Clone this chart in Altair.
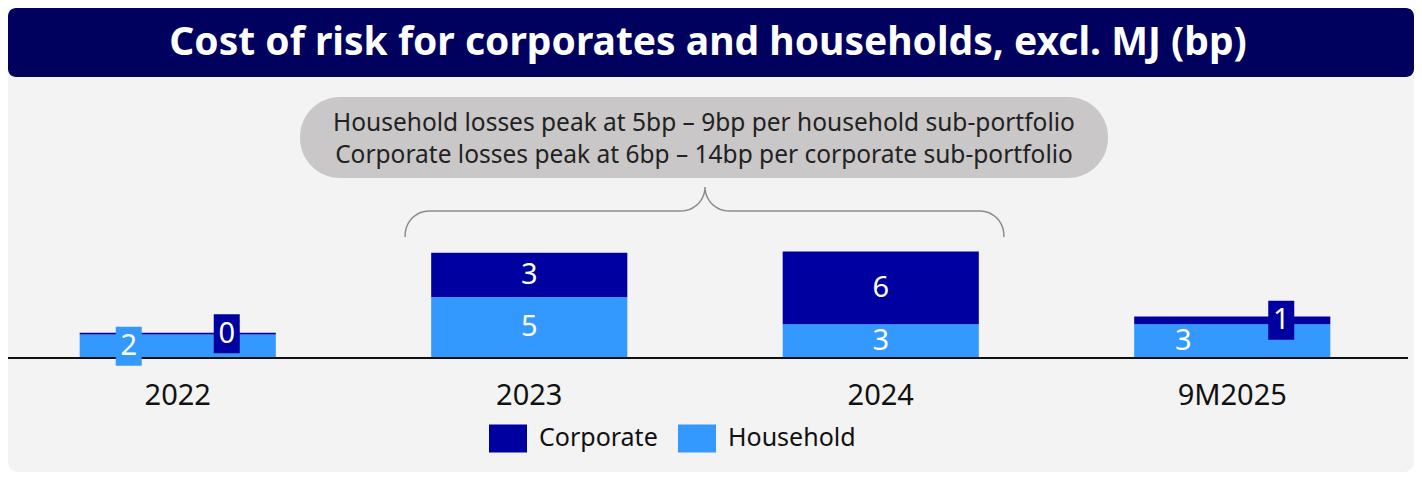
import altair as alt
import pandas as pd
import numpy as np

# ---------------- data ----------------
years = ["2022", "2023", "2024", "9M2025"]
household = [1.8, 4.7, 2.6, 2.6]
corporate = [0.15, 3.4, 5.6, 0.6]
series_names = ["Corporate", "Household"]
series_colors = ["#0000a0", "#3399ff"]
title_text = "Cost of risk for corporates and households, excl. MJ (bp)"
bubble_lines = [
    "Household losses peak at 5bp \u2013 9bp per household sub-portfolio",
    "Corporate losses peak at 6bp \u2013 14bp per corporate sub-portfolio",
]

# ---------------- layout ----------------
W, H = 1406, 464
FONT = "Noto Sans"
STEP_START, STEP_END = -6, 1400
P_INNER, P_OUTER = 0.442, 0.221

rows = []
for i, yr in enumerate(years):
    rows.append({"year": yr, "series": "Household", "value": household[i], "ord": 0})
    rows.append({"year": yr, "series": "Corporate", "value": corporate[i], "ord": 1})
df = pd.DataFrame(rows)

one = alt.Data(values=[{"k": 1}])

xs = alt.Scale(domain=years, range=[STEP_START, STEP_END], paddingInner=P_INNER, paddingOuter=P_OUTER)
ys = alt.Scale(domain=[0, 20], range=[350, 90])
cs = alt.Scale(domain=series_names, range=series_colors)
leg = alt.Legend(
    orient="none", legendX=481, legendY=411, direction="horizontal", title=None,
    symbolType="M-1,-0.737L1,-0.737L1,0.737L-1,0.737Z", symbolSize=1444,
    symbolStrokeWidth=0, symbolOpacity=1, labelFont=FONT, labelFontSize=25,
    labelColor="#111111", labelOffset=12, columnPadding=20, padding=0,
)

X = alt.X("year:N", scale=xs, axis=None, sort=years)
BOX = "M-0.667,-1L0.667,-1L0.667,1L-0.667,1Z"

base = (
    alt.Chart(df)
    .transform_joinaggregate(total="sum(value)", groupby=["year"])
    .transform_stack(stack="value", groupby=["year"], as_=["v0", "v1"],
                     sort=[alt.SortField(field="ord", order="ascending")])
    .transform_calculate(mid="(datum.v0 + datum.v1) / 2")
)

bars = base.mark_bar().encode(
    x=X,
    y=alt.Y("v0:Q", scale=ys, axis=None),
    y2="v1:Q",
    color=alt.Color("series:N", scale=cs, legend=leg),
)

def label_layer(flt, dx):
    return base.transform_filter(flt).mark_text(
        font=FONT, fontSize=29, color="white", align="center", baseline="middle", dx=dx
    ).encode(
        x=X,
        y=alt.Y("mid:Q", scale=ys, axis=None),
        text=alt.Text("value:Q", format=".0f"),
    )

lab_c = label_layer("datum.total >= 4", 0)
lab_l = label_layer("datum.total < 4 && datum.series == 'Household'", -49)
lab_r = label_layer("datum.total < 4 && datum.series == 'Corporate'", 49)

def box_layer(series, off):
    return base.transform_filter(
        f"datum.total < 4 && datum.value < 2 && datum.series == '{series}'"
    ).mark_point(
        shape=BOX, size=1521, filled=True, opacity=1, strokeWidth=0, xOffset=off,
    ).encode(x=X, y=alt.Y("mid:Q", scale=ys, axis=None),
             color=alt.Color("series:N", scale=cs, legend=leg))

boxes_l = box_layer("Household", -49)
boxes_r = box_layer("Corporate", 49)

xlabels = base.transform_filter("datum.series == 'Household'").mark_text(
    font=FONT, fontSize=29, color="#111111", align="center", baseline="middle"
).encode(x=X, y=alt.value(388), text="year:N")

baseline = alt.Chart(one).mark_rule(color="#111111", strokeWidth=2).encode(
    x=alt.value(0), x2=alt.value(1400), y=alt.value(350)
)

data_layer = alt.layer(bars, baseline, boxes_l, boxes_r, lab_c, lab_l, lab_r, xlabels)

# ---------------- decorations ----------------
panel = alt.Chart(one).mark_rect(color="#f3f3f3", cornerRadius=10).encode(
    x=alt.value(0), x2=alt.value(W), y=alt.value(40), y2=alt.value(H)
)
title_bar = alt.Chart(one).mark_rect(color="#00005f", cornerRadius=8).encode(
    x=alt.value(0), x2=alt.value(W), y=alt.value(0), y2=alt.value(69)
)
title = alt.Chart(one).mark_text(
    font=FONT, fontSize=39, fontWeight="bold", color="white", align="center", baseline="middle"
).encode(x=alt.value(700), y=alt.value(35), text=alt.value(title_text))

bubble = alt.Chart(one).mark_rect(color="#c9c7c7", cornerRadius=40).encode(
    x=alt.value(292), x2=alt.value(1100), y=alt.value(89), y2=alt.value(170)
)
bub_t1 = alt.Chart(one).mark_text(
    font=FONT, fontSize=24.5, color="#222222", align="center", baseline="middle"
).encode(x=alt.value(696), y=alt.value(116), text=alt.value(bubble_lines[0]))
bub_t2 = alt.Chart(one).mark_text(
    font=FONT, fontSize=24.5, color="#222222", align="center", baseline="middle"
).encode(x=alt.value(696), y=alt.value(148), text=alt.value(bubble_lines[1]))

# brace spanning 2023..2024 (geometry derived from band layout)
step = (STEP_END - STEP_START) / len(years)
hb = step * (1 - P_INNER) / 2
c1 = STEP_START + step * 1.5
c2 = STEP_START + step * 2.5
Lx, Rx, Px = c1 - hb - 26, c2 + hb + 25, (c1 + c2) / 2
yh, yp, r = 203, 179, 24
pts = [(Lx, 229)]
def arc(cx, cy, a0, a1, n=14):
    return [(cx + r * np.cos(t), cy + r * np.sin(t)) for t in np.linspace(a0, a1, n)]
pts += arc(Lx + r, yh + r, np.pi, 1.5 * np.pi)
pts += arc(Px - r, yp, 0.5 * np.pi, 0)
pts += arc(Px + r, yp, np.pi, 0.5 * np.pi)
pts += arc(Rx - r, yh + r, 1.5 * np.pi, 2 * np.pi)
pts += [(Rx, 229)]
brace_df = pd.DataFrame({"i": range(len(pts)), "bx": [p[0] for p in pts], "by": [p[1] for p in pts]})
brace = alt.Chart(brace_df).mark_line(color="#8c8c8c", strokeWidth=1.5).encode(
    x=alt.X("bx:Q", scale=alt.Scale(domain=[0, W], range=[0, W]), axis=None),
    y=alt.Y("by:Q", scale=alt.Scale(domain=[0, H], range=[0, H]), axis=None),
    order="i:Q",
)

chart = (
    alt.layer(panel, title_bar, title, bubble, bub_t1, bub_t2, brace, data_layer)
    .resolve_scale(x="independent", y="independent")
    .properties(width=W, height=H, autosize=alt.AutoSizeParams(type="none"), padding=0,
                background="white")
    .configure_view(strokeWidth=0)
)

chart.save("out.html", embed_options={"renderer": "svg", "actions": False})
